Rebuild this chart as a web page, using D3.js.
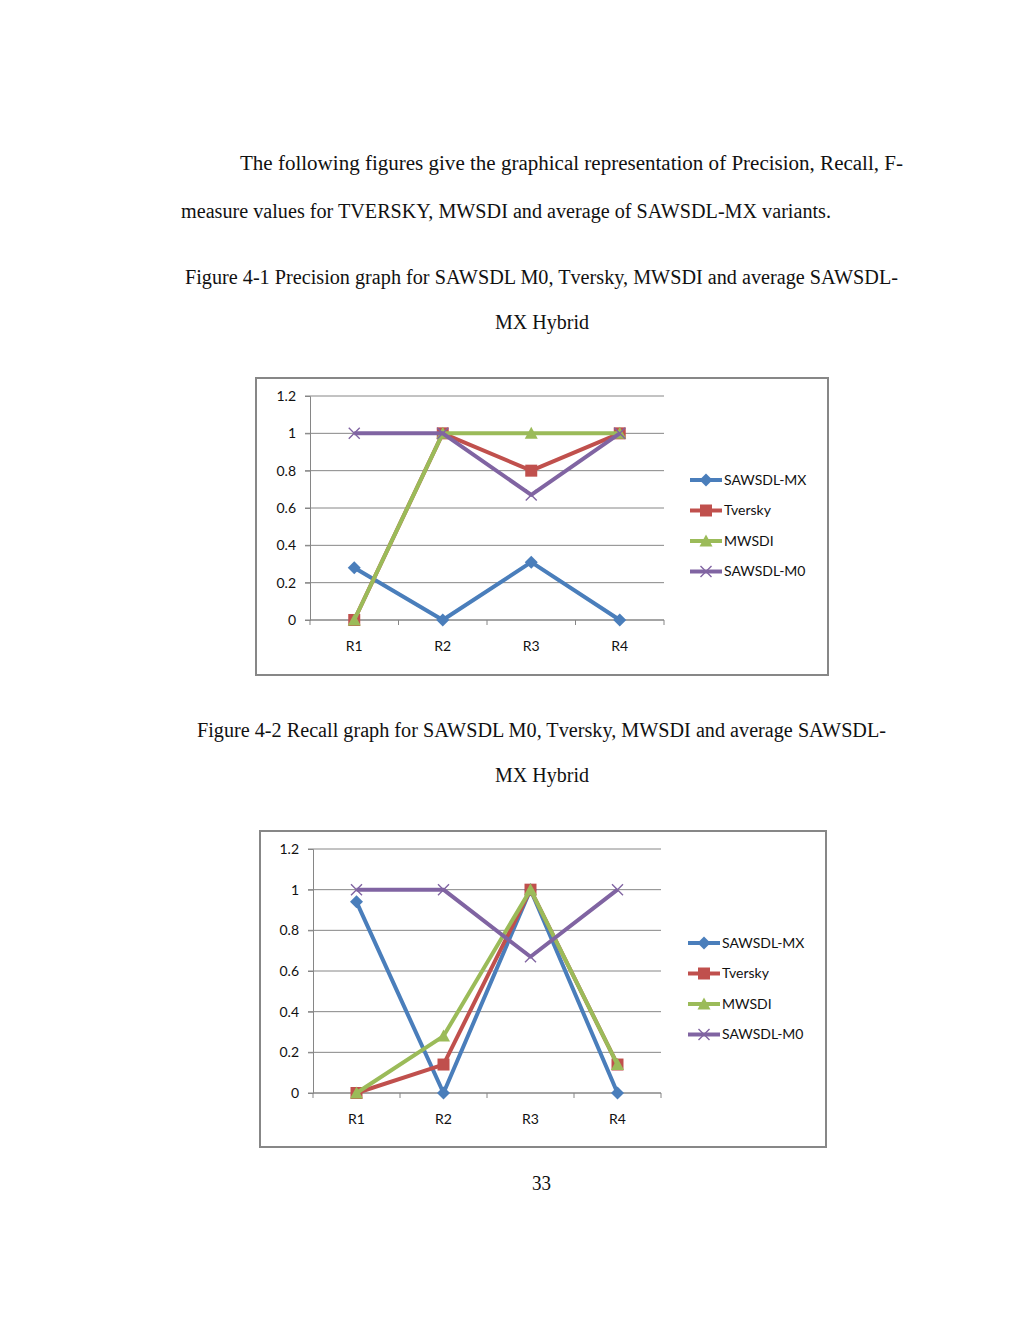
<!DOCTYPE html>
<html>
<head>
  <title>Precision and Recall graphs</title>
  <script src="https://d3js.org/d3.v7.min.js"></script>
  <style>
    body { margin: 0; background: #fff; }
    .page-text { font-family: "Liberation Serif", "Times New Roman", serif; fill: #111; }
    .chart-text { font-family: Lato, "Open Sans", sans-serif; fill: #111; }
  </style>
</head>
<body>
  <svg id="page"></svg>
  <script>
    // Data
    const categories = ["R1", "R2", "R3", "R4"];
    const seriesNames = ["SAWSDL-MX", "Tversky", "MWSDI", "SAWSDL-M0"];
    const yTickValues = [0, 0.2, 0.4, 0.6, 0.8, 1, 1.2];

    // Figure 4-1 precision values
    const precisionMX = [0.28, 0, 0.31, 0];
    const precisionTversky = [0, 1, 0.8, 1];
    const precisionMWSDI = [0, 1, 1, 1];
    const precisionM0 = [1, 1, 0.67, 1];

    // Figure 4-2 recall values
    const recallMX = [0.94, 0, 1, 0];
    const recallTversky = [0, 0.14, 1, 0.14];
    const recallMWSDI = [0, 0.28, 1, 0.14];
    const recallM0 = [1, 1, 0.67, 1];

    const colors = ["#4A7EBB", "#C0504D", "#9BBB59", "#8064A2"];
    const markers = ["diamond", "square", "triangle", "cross"];

    const svg = d3.select("#page")
      .attr("width", 1024)
      .attr("height", 1325);

    svg.append("rect").attr("width", 1024).attr("height", 1325).attr("fill", "#fff");

    // Page text (lengths fitted to the scanned page)
    const lines = [
      {t: "The following figures give the graphical representation of Precision, Recall, F-", x: 240, y: 170, w: 663},
      {t: "measure values for TVERSKY, MWSDI and average of SAWSDL-MX variants.", x: 181, y: 218, w: 650},
      {t: "Figure 4-1 Precision graph for SAWSDL M0, Tversky, MWSDI and average SAWSDL-", x: 185, y: 284, w: 713},
      {t: "MX Hybrid", x: 495, y: 329, w: 94},
      {t: "Figure 4-2 Recall graph for SAWSDL M0, Tversky, MWSDI and average SAWSDL-", x: 197, y: 737, w: 689},
      {t: "MX Hybrid", x: 495, y: 782, w: 94},
      {t: "33", x: 532, y: 1190, w: 19}
    ];
    svg.selectAll(".page-text")
      .data(lines)
      .enter().append("text")
      .attr("class", "page-text")
      .attr("x", d => d.x)
      .attr("y", d => d.y)
      .attr("textLength", d => d.w)
      .attr("lengthAdjust", "spacingAndGlyphs")
      .style("font-size", "20.5px")
      .text(d => d.t);

    function markerPath(type) {
      if (type === "diamond") return "M0,-6.5L6.5,0L0,6.5L-6.5,0Z";
      if (type === "square") return "M-6,-6H6V6H-6Z";
      if (type === "triangle") return "M0,-6.5L6.5,5.5H-6.5Z";
      return "M-5.5,-5.5L5.5,5.5M-5.5,5.5L5.5,-5.5";
    }

    function drawChart(cfg) {
      const g = svg.append("g");

      // outer frame
      g.append("rect")
        .attr("x", cfg.box[0]).attr("y", cfg.box[1])
        .attr("width", cfg.box[2]).attr("height", cfg.box[3])
        .attr("fill", "#fff")
        .attr("stroke", "#878787")
        .attr("stroke-width", 2);

      const x = d3.scalePoint()
        .domain(categories)
        .range([cfg.plot.left, cfg.plot.right])
        .padding(0.5);

      const y = d3.scaleLinear()
        .domain([0, 1.2])
        .range([cfg.plot.bottom, cfg.plot.top]);

      // gridlines
      g.selectAll(".grid")
        .data(yTickValues)
        .enter().append("line")
        .attr("x1", cfg.plot.left - 5)
        .attr("x2", cfg.plot.right)
        .attr("y1", d => y(d))
        .attr("y2", d => y(d))
        .attr("stroke", "#868686")
        .attr("stroke-width", 1);

      // y axis
      const yAxis = g.append("g")
        .attr("transform", `translate(${cfg.plot.left},0)`)
        .call(d3.axisLeft(y).tickValues(yTickValues).tickSize(5).tickPadding(9).tickFormat(d3.format("")));
      yAxis.select(".domain").attr("stroke", "#868686");
      yAxis.selectAll(".tick line").attr("stroke", "#868686");
      yAxis.selectAll("text")
        .attr("class", "chart-text")
        .style("font-size", "14px")
        .attr("fill", "#111");

      // x axis with ticks between categories
      const step = x.step();
      const bounds = d3.range(categories.length + 1).map(i => cfg.plot.left + i * step);
      const xg = g.append("g");
      xg.append("line")
        .attr("x1", cfg.plot.left).attr("x2", cfg.plot.right)
        .attr("y1", cfg.plot.bottom).attr("y2", cfg.plot.bottom)
        .attr("stroke", "#868686");
      xg.selectAll(".xtick")
        .data(bounds)
        .enter().append("line")
        .attr("x1", d => d).attr("x2", d => d)
        .attr("y1", cfg.plot.bottom).attr("y2", cfg.plot.bottom + 5)
        .attr("stroke", "#868686");
      xg.selectAll(".xlabel")
        .data(categories)
        .enter().append("text")
        .attr("class", "chart-text")
        .attr("x", d => x(d))
        .attr("y", cfg.plot.bottom + 31)
        .attr("text-anchor", "middle")
        .style("font-size", "14px")
        .text(d => d);

      // series
      const line = d3.line()
        .x((d, i) => x(categories[i]))
        .y(d => y(d));

      cfg.series.forEach((vals, s) => {
        g.append("path")
          .attr("d", line(vals))
          .attr("fill", "none")
          .attr("stroke", colors[s])
          .attr("stroke-width", 4)
          .attr("stroke-linejoin", "round");

        g.selectAll(".m" + s)
          .data(vals)
          .enter().append("path")
          .attr("transform", (d, i) => `translate(${x(categories[i])},${y(d)})`)
          .attr("d", markerPath(markers[s]))
          .attr("fill", markers[s] === "cross" ? "none" : colors[s])
          .attr("stroke", colors[s])
          .attr("stroke-width", markers[s] === "cross" ? 1.4 : 0);
      });

      // legend
      const legend = g.selectAll(".legend")
        .data(seriesNames)
        .enter().append("g")
        .attr("transform", (d, i) => `translate(${cfg.legend.x},${cfg.legend.y + i * cfg.legend.gap})`);
      legend.append("line")
        .attr("x1", 0).attr("x2", 32)
        .attr("stroke", (d, i) => colors[i])
        .attr("stroke-width", 4);
      legend.append("path")
        .attr("transform", "translate(16,0)")
        .attr("d", (d, i) => markerPath(markers[i]))
        .attr("fill", (d, i) => markers[i] === "cross" ? "none" : colors[i])
        .attr("stroke", (d, i) => colors[i])
        .attr("stroke-width", (d, i) => markers[i] === "cross" ? 1.4 : 0);
      legend.append("text")
        .attr("class", "chart-text")
        .attr("x", 34)
        .attr("dy", "0.35em")
        .style("font-size", "14px")
        .text(d => d);
    }

    drawChart({
      box: [256, 378, 572, 297],
      plot: {left: 310, right: 664, top: 396, bottom: 620},
      series: [precisionMX, precisionTversky, precisionMWSDI, precisionM0],
      legend: {x: 690, y: 480, gap: 30.5}
    });

    drawChart({
      box: [260, 831, 566, 316],
      plot: {left: 313, right: 661, top: 849, bottom: 1093},
      series: [recallMX, recallTversky, recallMWSDI, recallM0],
      legend: {x: 688, y: 943, gap: 30.5}
    });
  </script>
</body>
</html>
